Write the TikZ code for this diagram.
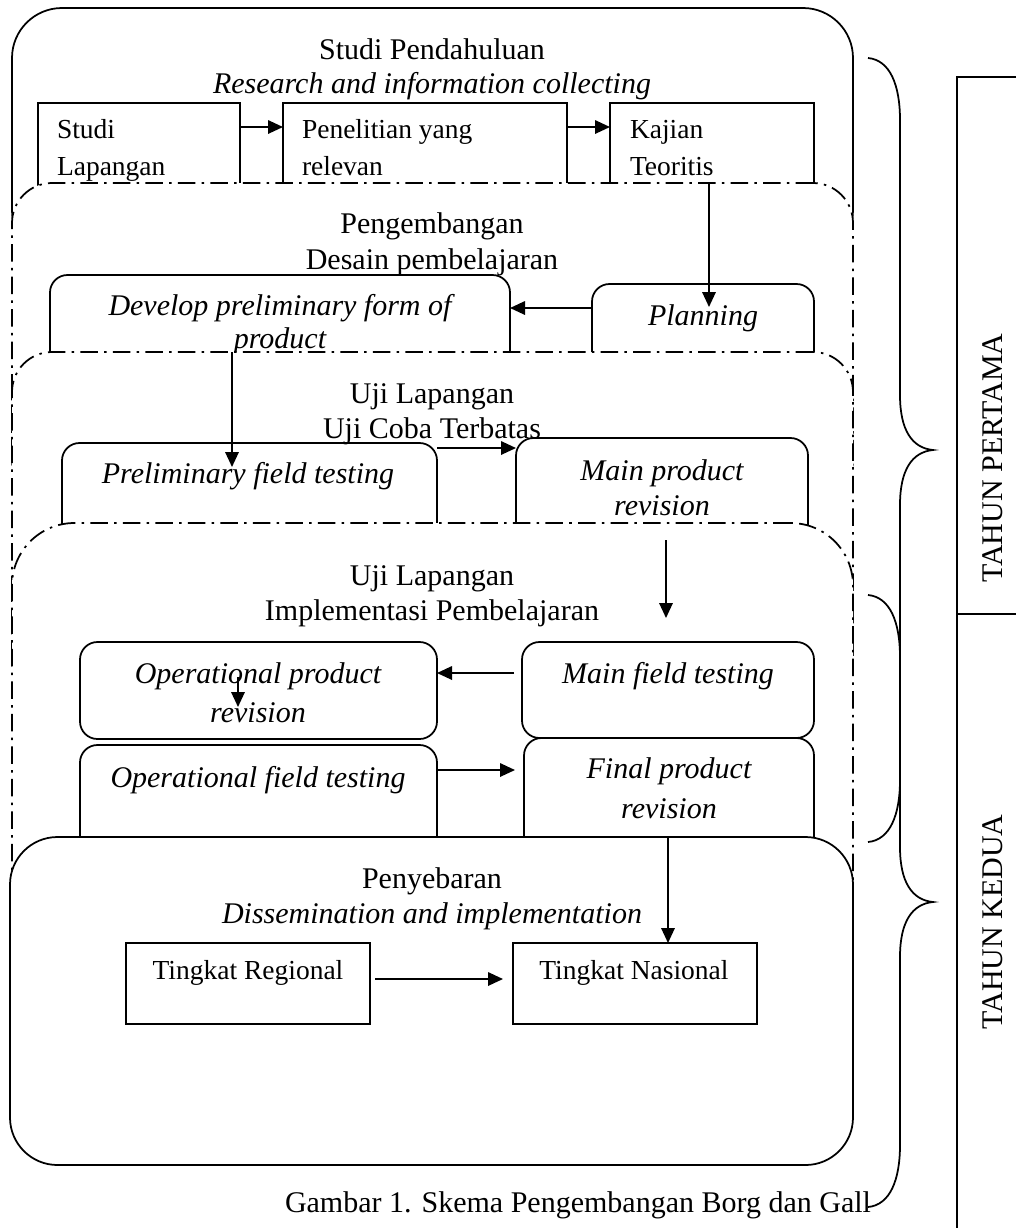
\documentclass[tikz,border=0pt]{standalone}
\usepackage{fontspec}
\setmainfont{Liberation Serif}
\usetikzlibrary{arrows.meta,fit}
\begin{document}
\begin{tikzpicture}[x=0.4pt,y=-0.4pt,
  every node/.style={inner sep=0pt, outer sep=0pt},
  lw/.style={line width=0.7pt},
  panelsolid/.style={draw, line width=0.7pt, fill=white},
  paneldd/.style={draw, line width=0.7pt, fill=white, dash pattern=on 7pt off 2.5pt on 1pt off 2.5pt},
  sqbox/.style={draw, line width=0.7pt},
  rbox/.style={draw, line width=0.7pt, rounded corners=7pt},
  ttl/.style={font=\fontsize{12}{14}\selectfont, anchor=base},
  ital/.style={font=\fontsize{12}{14}\selectfont\itshape, anchor=base},
  boxtxt/.style={font=\fontsize{11}{13}\selectfont, anchor=base west},
  boxtxtc/.style={font=\fontsize{11}{13}\selectfont, anchor=base},
  arr/.style={line width=0.7pt, -{Triangle[length=6pt,width=5.4pt]}},
  bracepath/.style={line width=0.7pt},
]
\useasboundingbox (0,0) rectangle (1016,1228);

% ---------- Panel 1 ----------
\node[panelsolid, rounded corners=20pt, fit={(12,8) (853,260)}] (P1) {};
\node[ttl] (t1a) at (432,59) {Studi Pendahuluan};
\node[ital] (t1b) at (432,93) {Research and information collecting};
\node[sqbox, fit={(38,103) (240,200)}] (bA) {};
\node[boxtxt] (tA1) at (57,138) {Studi};
\node[boxtxt] (tA2) at (57,175) {Lapangan};
\node[sqbox, fit={(283,103) (567,200)}] (bB) {};
\node[boxtxt] (tB1) at (302,138) {Penelitian yang};
\node[boxtxt] (tB2) at (302,175) {relevan};
\node[sqbox, fit={(610,103) (814,200)}] (bC) {};
\node[boxtxt] (tC1) at (630,138) {Kajian};
\node[boxtxt] (tC2) at (630,175) {Teoritis};
\draw[arr] (bA.east |- 0,127) -- (bB.west |- 0,127);
\draw[arr] (bB.east |- 0,127) -- (bC.west |- 0,127);

% ---------- Panel 2 ----------
\node[paneldd, rounded corners=16pt, fit={(12,183) (853,500)}] (P2) {};
\node[ttl] (t2a) at (432,233) {Pengembangan};
\node[ttl] (t2b) at (432,269) {Desain pembelajaran};
\node[rbox, fit={(50,275) (510,380)}] (bD) {};
\node[ital] (tD1) at (280,315) {Develop preliminary form of};
\node[ital] (tD2) at (280,348) {product};
\node[rbox, fit={(592,284) (814,380)}] (bP) {};
\node[ital] (tP) at (703,325) {Planning};
\draw[arr] (bP.west |- 0,308) -- (bD.east |- 0,308);
\draw[arr] (709,0 |- P2.north) -- (709,0 |- 0,307);

% ---------- Panel 3 ----------
\node[paneldd, rounded corners=16pt, fit={(12,352) (853,700)}] (P3) {};
\node[ttl] (t3a) at (432,403) {Uji Lapangan};
\node[ttl] (t3b) at (432,438) {Uji Coba Terbatas};
\node[rbox, fit={(62,443) (437,560)}] (bPF) {};
\node[ital] (tPF) at (248,483) {Preliminary field testing};
\node[rbox, fit={(516,438) (808,560)}] (bMR) {};
\node[ital] (tMR1) at (662,480) {Main product};
\node[ital] (tMR2) at (662,515) {revision};
\draw[arr] (bPF.east |- 0,448) -- (bMR.west |- 0,448);
\draw[arr] (232,0 |- P3.north) -- (232,467);

% ---------- Panel 4 ----------
\node[paneldd, rounded corners=25pt, fit={(12,523) (853,1000)}] (P4) {};
\node[ttl] (t4a) at (432,585) {Uji Lapangan};
\node[ttl] (t4b) at (432,620) {Implementasi Pembelajaran};
\coordinate (m1) at (666,540);
\coordinate (m2) at (666,618);
\draw[arr] (m1) -- (m2);
\node[rbox, fit={(80,642) (437,739)}] (bOR) {};
\node[ital] (tOR1) at (258,683) {Operational product};
\node[ital] (tOR2) at (258,722) {revision};
\node[rbox, fit={(522,642) (814,738)}] (bMF) {};
\node[ital] (tMF) at (668,683) {Main field testing};
\draw[arr, shorten <=3.2pt] (bMF.west |- 0,673) -- (bOR.east |- 0,673);
\coordinate (s1) at (238,677);
\coordinate (s2) at (238,707);
\draw[arr] (s1) -- (s2);
\node[rbox, fit={(80,745) (437,880)}] (bOF) {};
\node[ital] (tOF) at (258,787) {Operational field testing};
\node[rbox, fit={(524,738) (814,880)}] (bFR) {};
\node[ital] (tFR1) at (669,778) {Final product};
\node[ital] (tFR2) at (669,818) {revision};
\draw[arr, shorten >=3.6pt] (bOF.east |- 0,770) -- (bFR.west |- 0,770);

% ---------- Panel 5 ----------
\node[panelsolid, rounded corners=19pt, fit={(10,837) (853,1165)}] (P5) {};
\node[ttl] (t5a) at (432,888) {Penyebaran};
\node[ital] (t5b) at (432,923) {Dissemination and implementation};
\node[sqbox, fit={(126,943) (370,1024)}] (bTR) {};
\node[boxtxtc] (tTR) at (248,979) {Tingkat Regional};
\node[sqbox, fit={(513,943) (757,1024)}] (bTN) {};
\node[boxtxtc] (tTN) at (634,979) {Tingkat Nasional};
\draw[arr, shorten <=2pt, shorten >=4pt] (bTR.east |- 0,979) -- (bTN.west |- 0,979);
\draw[arr] (668,0 |- P5.north) -- (668,0 |- bTN.north);

% ---------- Caption ----------
\node[ttl] (cap) at (578,1212) {Gambar 1. Skema Pengembangan Borg dan Gall};

% ---------- Braces ----------
\draw[bracepath] (868,58) .. controls (890,60) and (900,85) .. (900,120) -- (900,395)
  .. controls (900,430) and (912,448) .. (933,450)
  .. controls (912,452) and (900,470) .. (900,505) -- (900,780)
  .. controls (900,815) and (890,840) .. (868,842);
\draw[bracepath] (868,595) .. controls (890,597) and (900,622) .. (900,657) -- (900,847)
  .. controls (900,882) and (912,900) .. (933,902)
  .. controls (912,904) and (900,922) .. (900,957) -- (900,1145)
  .. controls (900,1180) and (890,1205) .. (868,1207);

% ---------- Year table ----------
\coordinate (tb1) at (1016,77);
\coordinate (tb2) at (957,77);
\coordinate (tb3) at (957,1228);
\coordinate (tb4) at (957,614);
\coordinate (tb5) at (1016,614);
\draw[lw] (tb1) -- (tb2) -- (tb3);
\draw[lw] (tb4) -- (tb5);
\node[font=\fontsize{12}{14}\selectfont, rotate=90] (y1) at (993,458) {TAHUN PERTAMA};
\node[font=\fontsize{12}{14}\selectfont, rotate=90] (y2) at (993,922) {TAHUN KEDUA};
\end{tikzpicture}
\end{document}
